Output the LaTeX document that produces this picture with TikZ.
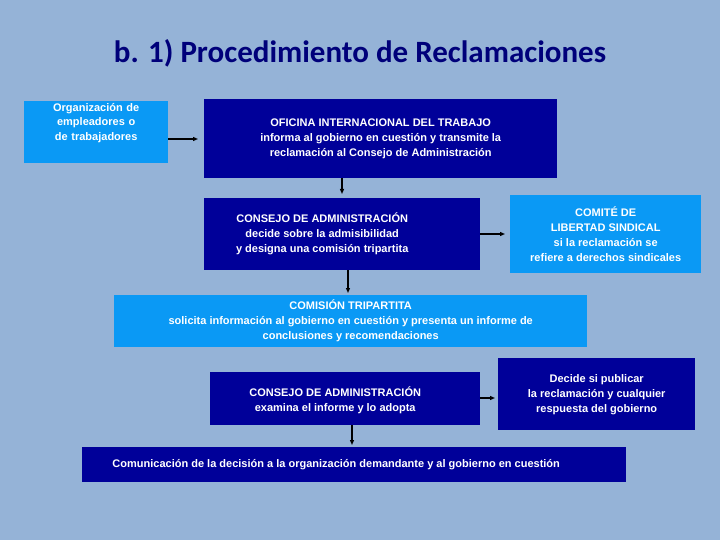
\documentclass[tikz,border=0pt]{standalone}
\usepackage{fontspec}
\setmainfont{Liberation Sans}
\newfontfamily\titlefont{Carlito}
\usetikzlibrary{arrows.meta}
\definecolor{bg}{HTML}{95B3D7}
\definecolor{lb}{HTML}{0A99F5}
\definecolor{nv}{HTML}{000099}
\begin{document}
\begin{tikzpicture}[x=1pt,y=-1pt,
 bx/.style={anchor=north west,inner sep=0pt,text=white,align=center,font=\fontsize{11}{14.5}\selectfont\bfseries},
 arr/.style={-{Triangle[length=5pt,width=4pt]},line width=1.2pt}]
\fill[bg] (0,0) rectangle (720,540);
\useasboundingbox (0,0) rectangle (720,540);
\node[font=\titlefont\bfseries\fontsize{31}{36}\selectfont,text=nv!80!black] (t) at (360,53) {b. 1) Procedimiento de Reclamaciones};
\node[bx,fill=lb,minimum width=144pt,minimum height=62pt,text depth=0pt] (org) at (24,101) {};
\node[bx,text width=144pt] at (24,103) {Organización de\\empleadores o\\de trabajadores};
\node[bx,fill=nv,minimum width=353pt,minimum height=79pt] (of) at (204,99) {};
\node[text=white,align=center,font=\fontsize{11}{15}\selectfont\bfseries] at (of.center) {OFICINA INTERNACIONAL DEL TRABAJO\\informa al gobierno en cuestión y transmite la\\reclamación al Consejo de Administración};
\node[bx,fill=nv,minimum width=276pt,minimum height=72pt] (c1) at (204,198) {};
\node[text=white,align=center,font=\fontsize{11}{15}\selectfont\bfseries] at ([xshift=-20pt]c1.center) {CONSEJO DE ADMINISTRACIÓN\\decide sobre la admisibilidad\\y designa una comisión tripartita};
\node[bx,fill=lb,minimum width=191pt,minimum height=78pt] (co) at (510,195) {};
\node[text=white,align=center,font=\fontsize{11}{15}\selectfont\bfseries] at (co.center) {COMITÉ DE\\LIBERTAD SINDICAL\\si la reclamación se\\refiere a derechos sindicales};
\node[bx,fill=lb,minimum width=473pt,minimum height=52pt] (cm) at (114,295) {};
\node[text=white,align=center,font=\fontsize{11}{15}\selectfont\bfseries] at (cm.center) {COMISIÓN TRIPARTITA\\solicita información al gobierno en cuestión y presenta un informe de\\conclusiones y recomendaciones};
\node[bx,fill=nv,minimum width=270pt,minimum height=53pt] (c2) at (210,372) {};
\node[text=white,align=center,font=\fontsize{11}{15}\selectfont\bfseries] at ([xshift=-10pt,yshift=-2pt]c2.center) {CONSEJO DE ADMINISTRACIÓN\\examina el informe y lo adopta};
\node[bx,fill=nv,minimum width=197pt,minimum height=72pt] (de) at (498,358) {};
\node[text=white,align=center,font=\fontsize{11}{15}\selectfont\bfseries] at (de.center) {Decide si publicar\\la reclamación y cualquier\\respuesta del gobierno};
\node[bx,fill=nv,minimum width=544pt,minimum height=35pt] (cu) at (82,447) {};
\node[text=white,align=center,font=\fontsize{11}{15}\selectfont\bfseries] at ([xshift=-18pt]cu.center) {Comunicación de la decisión a la organización demandante y al gobierno en cuestión};
\draw[arr] (org.east|-0,139) -- (198,139);
\draw[arr] (342,178) -- (342,194);
\draw[arr] (348,270) -- (348,293);
\draw[arr] (480,234) -- (505,234);
\draw[arr] (480,398) -- (495,398);
\draw[arr] (352,425) -- (352,445);
\end{tikzpicture}
\end{document}
